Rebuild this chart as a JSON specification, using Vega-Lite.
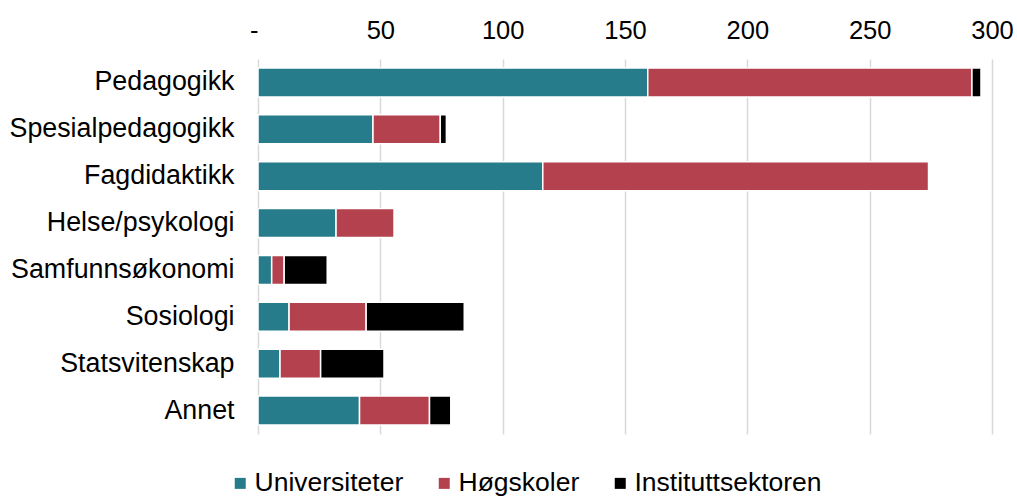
{
  "$schema": "https://vega.github.io/schema/vega-lite/v6.json",
  "width": 734,
  "height": 375,
  "autosize": {"type": "none"},
  "padding": {"left": 258, "top": 59, "right": 25, "bottom": 63},
  "background": "white",
  "config": {
    "view": {"stroke": null},
    "font": "Liberation Sans",
    "axis": {"labelFont": "Liberation Sans", "labelColor": "#000000"},
    "legend": {"labelFont": "Liberation Sans", "labelColor": "#000000"}
  },
  "data": {
    "values": [
      {"fag": "Pedagogikk", "sektor": "Universiteter", "antall": 159.3},
      {"fag": "Pedagogikk", "sektor": "Høgskoler", "antall": 132.5},
      {"fag": "Pedagogikk", "sektor": "Instituttsektoren", "antall": 3.7},
      {"fag": "Spesialpedagogikk", "sektor": "Universiteter", "antall": 47},
      {"fag": "Spesialpedagogikk", "sektor": "Høgskoler", "antall": 27.5},
      {"fag": "Spesialpedagogikk", "sektor": "Instituttsektoren", "antall": 2.5},
      {"fag": "Fagdidaktikk", "sektor": "Universiteter", "antall": 116.4},
      {"fag": "Fagdidaktikk", "sektor": "Høgskoler", "antall": 157.7},
      {"fag": "Fagdidaktikk", "sektor": "Instituttsektoren", "antall": 0},
      {"fag": "Helse/psykologi", "sektor": "Universiteter", "antall": 31.9},
      {"fag": "Helse/psykologi", "sektor": "Høgskoler", "antall": 23.8},
      {"fag": "Helse/psykologi", "sektor": "Instituttsektoren", "antall": 0},
      {"fag": "Samfunnsøkonomi", "sektor": "Universiteter", "antall": 5.6},
      {"fag": "Samfunnsøkonomi", "sektor": "Høgskoler", "antall": 5.1},
      {"fag": "Samfunnsøkonomi", "sektor": "Instituttsektoren", "antall": 17.6},
      {"fag": "Sosiologi", "sektor": "Universiteter", "antall": 12.7},
      {"fag": "Sosiologi", "sektor": "Høgskoler", "antall": 31.5},
      {"fag": "Sosiologi", "sektor": "Instituttsektoren", "antall": 40.1},
      {"fag": "Statsvitenskap", "sektor": "Universiteter", "antall": 9},
      {"fag": "Statsvitenskap", "sektor": "Høgskoler", "antall": 16.6},
      {"fag": "Statsvitenskap", "sektor": "Instituttsektoren", "antall": 25.9},
      {"fag": "Annet", "sektor": "Universiteter", "antall": 41.5},
      {"fag": "Annet", "sektor": "Høgskoler", "antall": 28.6},
      {"fag": "Annet", "sektor": "Instituttsektoren", "antall": 8.7}
    ]
  },
  "mark": {"type": "bar", "stroke": "white", "strokeWidth": 1.5},
  "encoding": {
    "y": {
      "field": "fag",
      "type": "nominal",
      "sort": ["Pedagogikk", "Spesialpedagogikk", "Fagdidaktikk", "Helse/psykologi", "Samfunnsøkonomi", "Sosiologi", "Statsvitenskap", "Annet"],
      "scale": {"paddingInner": 0.38, "paddingOuter": 0.19},
      "axis": {
        "title": null,
        "ticks": false,
        "domain": false,
        "labelFontSize": 26.8,
        "labelLimit": 0,
        "labelPadding": 24,
        "grid": false
      }
    },
    "x": {
      "field": "antall",
      "type": "quantitative",
      "stack": "zero",
      "scale": {"domain": [0, 300], "nice": false},
      "axis": {
        "orient": "top",
        "title": null,
        "values": [0, 50, 100, 150, 200, 250, 300],
        "labelExpr": "datum.value == 0 ? '-' : datum.label",
        "labelFlush": false,
        "labelOverlap": false,
        "labelAlign": {"condition": {"test": "datum.value == 0", "value": "right"}, "value": "center"},
        "ticks": false,
        "domain": false,
        "grid": true,
        "gridColor": "#d9d9d9",
        "gridWidth": 1.5,
        "labelFontSize": 25.5,
        "labelPadding": 16
      }
    },
    "color": {
      "field": "sektor",
      "type": "nominal",
      "sort": ["Universiteter", "Høgskoler", "Instituttsektoren"],
      "scale": {
        "domain": ["Universiteter", "Høgskoler", "Instituttsektoren"],
        "range": ["#277c8c", "#b3414e", "#000000"]
      },
      "legend": {
        "title": null,
        "orient": "none",
        "direction": "horizontal",
        "legendX": -31,
        "legendY": 411,
        "symbolType": "square",
        "symbolSize": 121,
        "symbolStrokeWidth": 0,
        "labelFontSize": 26.5,
        "labelLimit": 0,
        "labelOffset": 1,
        "columnPadding": 27
      }
    },
    "order": {"field": "sektorIndex"}
  },
  "transform": [
    {"lookup": "sektor", "from": {"data": {"values": [{"sektor": "Universiteter", "sektorIndex": 1}, {"sektor": "Høgskoler", "sektorIndex": 2}, {"sektor": "Instituttsektoren", "sektorIndex": 3}]}, "key": "sektor", "fields": ["sektorIndex"]}}
  ]
}
